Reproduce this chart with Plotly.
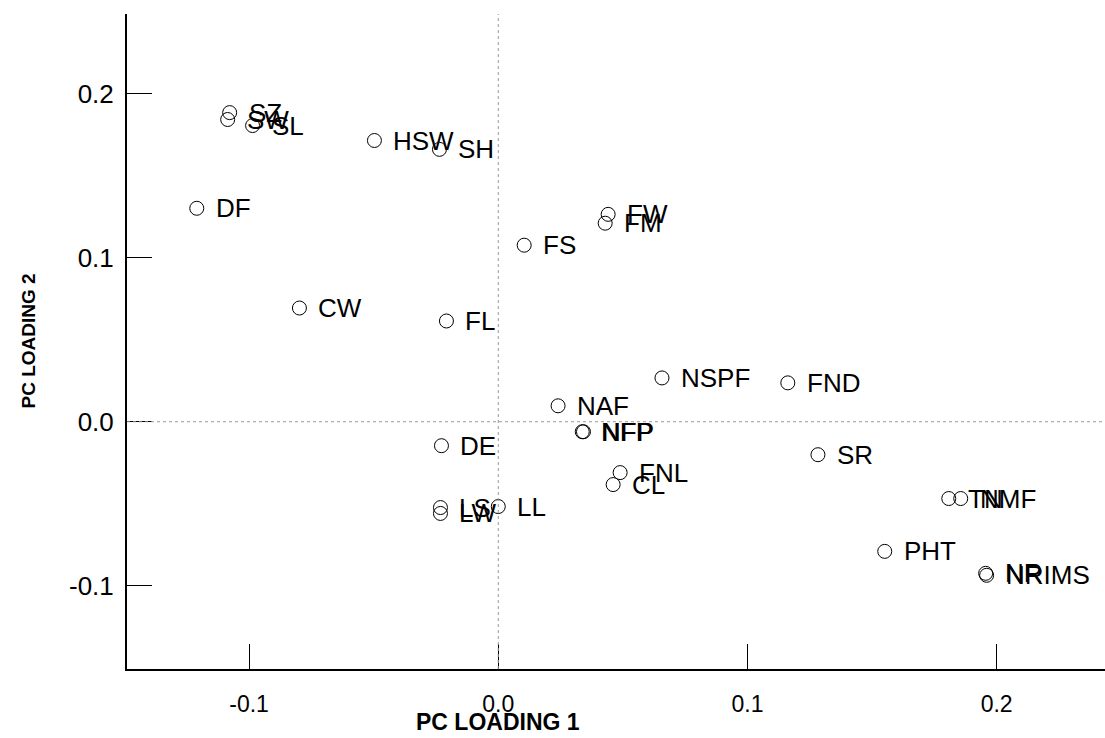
import plotly.graph_objects as go

# Principal component loadings of the measured traits
variables = ["SZ", "SW", "SL", "HSW", "SH", "DF", "FW", "FM", "FS", "CW", "FL",
             "NSPF", "FND", "NAF", "NFP", "NFP", "DE", "SR", "FNL", "CL",
             "LS", "LW", "LL", "TN", "NMF", "PHT", "NR", "NRIMS"]
pc1 = [-0.1078, -0.1086, -0.0986, -0.0497, -0.0236, -0.1210, 0.0441, 0.0429,
       0.0104, -0.0798, -0.0208, 0.0657, 0.1162, 0.0240, 0.0337, 0.0342,
       -0.0228, 0.1283, 0.0489, 0.0461, -0.0232, -0.0232, 0.0000, 0.1808,
       0.1856, 0.1551, 0.1956, 0.1960]
pc2 = [0.1884, 0.1842, 0.1805, 0.1714, 0.1660, 0.1301, 0.1264, 0.1210,
       0.1076, 0.0693, 0.0614, 0.0267, 0.0237, 0.0097, -0.0061, -0.0061,
       -0.0146, -0.0201, -0.0310, -0.0383, -0.0523, -0.0559, -0.0517, -0.0468,
       -0.0468, -0.0790, -0.0924, -0.0936]

tick_vals = [-0.1, 0.0, 0.1, 0.2]
tick_text = ["-0.1", "0.0", "0.1", "0.2"]

NARROW = "Liberation Sans Narrow, Arial Narrow, Liberation Sans, Arial, sans-serif"
REGULAR = "Liberation Sans, Arial, sans-serif"

X_MIN, X_MAX = -0.149, 0.2435

fig = go.Figure()

fig.add_trace(go.Scatter(
    x=pc1, y=pc2, mode="markers",
    marker=dict(symbol="circle-open", size=14, color="black",
                line=dict(width=1, color="black")),
    hoverinfo="text", text=variables, showlegend=False,
))

# Variable names to the right of each point
for name, xv, yv in zip(variables, pc1, pc2):
    fig.add_annotation(x=xv, y=yv, text=name, showarrow=False,
                       xanchor="left", yanchor="middle", xshift=17,
                       font=dict(family=REGULAR, size=26, color="black"))

# Dotted reference lines through the origin
fig.add_shape(type="line", xref="x", yref="paper", x0=0, x1=0, y0=0, y1=1,
              line=dict(color="#999999", width=1, dash="dot"))
fig.add_shape(type="line", xref="paper", yref="y", x0=0, x1=1, y0=0, y1=0,
              line=dict(color="#999999", width=1, dash="dot"))

# Axis titles
fig.add_annotation(xref="paper", yref="paper", x=(0.0 - X_MIN) / (X_MAX - X_MIN),
                   y=0, yshift=-53, text="<b>PC LOADING 1</b>", showarrow=False,
                   xanchor="center", yanchor="middle",
                   font=dict(family=NARROW, size=23, color="black"))
fig.add_annotation(xref="paper", yref="paper", x=0, xshift=-99, y=0.5,
                   text="<b>PC LOADING 2</b>", showarrow=False, textangle=-90,
                   xanchor="center", yanchor="middle",
                   font=dict(family=NARROW, size=19, color="black"))

fig.update_xaxes(range=[X_MIN, X_MAX], tickvals=tick_vals, ticktext=tick_text,
                 ticks="inside", ticklen=25, tickwidth=1, tickcolor="black",
                 showline=True, linecolor="black", linewidth=2, mirror=False,
                 showgrid=False, zeroline=False, ticklabelstandoff=13,
                 tickfont=dict(family=NARROW, size=23, color="black"))
fig.update_yaxes(range=[-0.1507, 0.2485], tickvals=tick_vals, ticktext=tick_text,
                 ticks="inside", ticklen=25, tickwidth=1, tickcolor="black",
                 showline=True, linecolor="black", linewidth=2, mirror=False,
                 showgrid=False, zeroline=False, ticklabelstandoff=6,
                 tickfont=dict(family=REGULAR, size=26, color="black"))

fig.update_layout(width=1105, height=738,
                  margin=dict(l=127, r=0, t=14, b=69),
                  plot_bgcolor="white", paper_bgcolor="white")

fig.write_html("out.html")
